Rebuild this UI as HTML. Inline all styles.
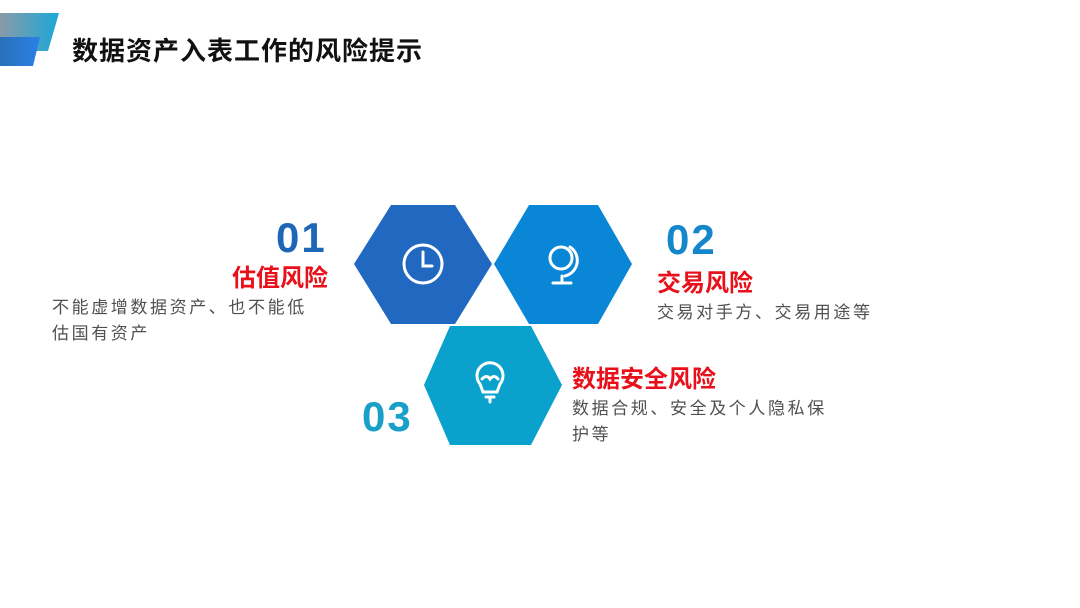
<!DOCTYPE html>
<html><head><meta charset="utf-8"><style>
body{margin:0;width:1080px;height:608px;background:#fff;position:relative;overflow:hidden;font-family:"Liberation Sans","Noto Sans CJK SC",sans-serif}
.a{position:absolute;white-space:nowrap}
.num{font-weight:bold;font-size:42px;letter-spacing:2px;line-height:1}
.h{color:#e8101a;font-weight:bold;font-size:24px;line-height:1}
.b{color:#505050;font-size:17px;letter-spacing:2.6px;line-height:26px}
</style></head><body>
<svg class="a" style="left:0;top:0" width="70" height="70">
<defs><linearGradient id="g1" x1="0" x2="1"><stop offset="0" stop-color="#8a9aa8"/><stop offset="1" stop-color="#1aa8d8"/></linearGradient>
<linearGradient id="g2" x1="0" x2="1"><stop offset="0" stop-color="#2a70b8"/><stop offset="1" stop-color="#2a80e8"/></linearGradient></defs>
<polygon points="0,13 59,13 48,51 0,51" fill="url(#g1)"/>
<polygon points="0,37 40,37 33,66 0,66" fill="url(#g2)"/>
</svg>
<div class="a" style="left:72px;top:31px;font-size:26px;font-weight:bold;color:#111;letter-spacing:1px">数据资产入表工作的风险提示</div>

<svg class="a" style="left:0;top:0" width="1080" height="608">
<polygon points="354,264 391,205 455,205 492,264 455,324 391,324" fill="#2068c0"/>
<polygon points="494,264 529,205 598,205 632,264 598,324 529,324" fill="#0a86d6"/>
<polygon points="424,385 450,326 531,326 562,385 531,445 450,445" fill="#0aa2cc"/>
<g fill="none" stroke="#fff" stroke-width="3" stroke-linecap="round">
<circle cx="423" cy="264" r="19"/><path d="M423,252 V266 H432"/>
<circle cx="561" cy="258" r="11"/><path d="M570,247 A16,16 0 0 1 565,276 M562,276 V283 M553,283 H571"/>
<path d="M480,384 A13,13 0 1 1 500,384 L497,392 H483 Z M482,379 q5,-5 8,0 q4,-5 8,0 M486,397 H494 M490,397 V402"/>
</g>
</svg>

<div class="a num" style="left:276px;top:217px;color:#1d67b6">01</div>
<div class="a h" style="left:232px;top:267px">估值风险</div>
<div class="a b" style="left:52px;top:295px">不能虚增数据资产、也不能低<br>估国有资产</div>

<div class="a num" style="left:666px;top:219px;color:#1486cc">02</div>
<div class="a h" style="left:657px;top:272px">交易风险</div>
<div class="a b" style="left:657px;top:300px">交易对手方、交易用途等</div>

<div class="a num" style="left:362px;top:396px;color:#18a0c8">03</div>
<div class="a h" style="left:572px;top:368px">数据安全风险</div>
<div class="a b" style="left:572px;top:396px">数据合规、安全及个人隐私保<br>护等</div>
</body></html>
